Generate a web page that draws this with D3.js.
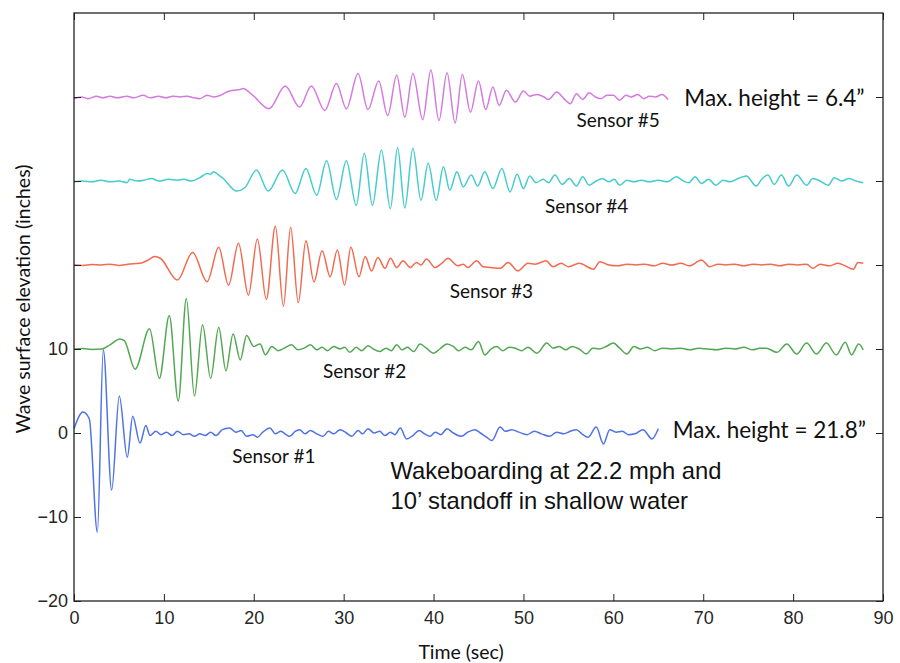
<!DOCTYPE html>
<html>
<head>
<meta charset="utf-8">
<script src="https://cdn.jsdelivr.net/npm/d3@7"></script>
<style>
  body { margin: 0; background: #fff; }
  .lbl { font-family: Lato, "Open Sans", sans-serif; fill: #111; }
  .tick-label { font-family: "Liberation Sans", Arial, sans-serif; font-size: 18px; fill: #262626; }
</style>
</head>
<body>
<svg id="chart" width="900" height="663"></svg>
<script>
// config
const X_DOMAIN = [0, 90];
const Y_DOMAIN = [-20, 50];
const X_TICKS  = [0, 10, 20, 30, 40, 50, 60, 70, 80, 90];
const Y_TICKS  = [-20, -10, 0, 10, 20, 30, 40];
const Y_LABELED = [-20, -10, 0, 10];

const SENSOR_NAMES   = ["Sensor #1", "Sensor #2", "Sensor #3", "Sensor #4", "Sensor #5"];
const SENSOR_OFFSETS = [0, 10, 20, 30, 40];
const SENSOR_COLORS  = ["#4f72e6", "#52a852", "#f26a50", "#45cccc", "#d47ae0"];

// [time (sec), elevation about the sensor's own baseline (inches)]
const sensor1 = [[0,0.5],[1.0,2.5],[1.7,1.7],[2.6,-11.8],[3.26,9.9],[4.19,-6.8],[5.04,4.4],[5.93,-2.9],[6.53,2.0],[7.34,-1.2],[8.0,0.9],[8.45,-0.3],[9.1,0.2],[9.7,-0.2],[10.3,0.1],[10.9,-0.3],[11.5,0.2],[12.2,-0.2],[12.8,-0.1],[13.4,-0.4],[14.0,-0.1],[14.6,-0.3],[15.2,0.1],[15.8,-0.3],[16.5,0.4],[17.3,0.6],[18.0,0.1],[18.6,0.3],[19.2,-0.4],[19.9,-0.2],[20.4,-0.5],[21.0,0.1],[21.8,0.6],[22.4,-0.1],[23.0,0.2],[23.6,-0.2],[24.0,-0.4],[24.6,0.2],[25.1,0.4],[25.7,-0.1],[26.3,0.3],[27.0,-0.1],[27.7,-0.4],[28.3,0.2],[28.9,-0.1],[29.6,0.4],[30.3,0.0],[30.9,-0.4],[31.6,0.3],[32.1,-0.1],[32.7,0.5],[33.4,0.0],[34.0,0.2],[34.6,-0.3],[35.2,0.1],[35.7,-0.2],[36.3,0.6],[37.0,-0.7],[37.7,-0.3],[38.4,0.3],[39.0,-0.1],[39.6,-0.4],[40.2,0.1],[40.8,-0.2],[41.5,0.5],[42.2,0.0],[43.1,-0.4],[43.8,0.1],[44.6,0.4],[45.2,0.0],[45.9,-0.5],[46.5,-0.9],[47.4,0.7],[48.0,0.2],[48.7,0.4],[49.5,0.1],[50.4,-0.2],[51.2,0.2],[52.0,-0.1],[52.9,-0.4],[53.7,0.1],[54.5,-0.1],[55.2,0.2],[55.9,0.4],[56.5,-0.1],[57.2,-0.5],[58.1,0.7],[58.9,-1.3],[59.6,0.4],[60.3,0.1],[61.0,0.2],[61.7,-0.2],[62.4,-0.1],[63.3,0.4],[64.3,-0.7],[65.0,0.5]];

const sensor2 = [[0,0],[1,0.05],[2,-0.05],[3.1,0],[4.0,0.5],[5.1,1.2],[5.6,1.0],[6.8,-2.4],[8.4,2.4],[9.5,-3.5],[10.6,4.0],[11.6,-6.2],[12.5,6.0],[13.4,-5.6],[14.3,2.9],[15.2,-3.5],[16.1,2.6],[16.9,-2.6],[17.7,1.8],[18.5,-1.3],[19.2,1.6],[20.0,0.3],[20.7,0.6],[21.3,-0.7],[22.0,0.3],[22.7,-0.2],[23.4,0.1],[24.2,0.5],[24.9,-0.1],[25.6,0.1],[26.3,0.5],[27.0,-0.1],[27.6,0.2],[28.2,-0.2],[28.9,0.3],[29.6,0.0],[30.1,0.2],[30.7,-0.4],[31.4,0.2],[32.0,-0.2],[32.7,0.4],[33.3,0.0],[34.0,-0.3],[34.7,0.1],[35.3,-0.2],[35.9,0.5],[36.5,-0.1],[37.1,0.2],[37.8,-0.3],[38.5,0.6],[39.2,0.1],[40.0,-0.5],[40.7,0.0],[41.5,0.6],[42.2,0.3],[42.8,-0.2],[43.5,0.2],[44.2,-0.1],[45.0,0.9],[45.7,-0.7],[46.4,0.0],[47.0,0.3],[47.7,-0.2],[48.4,0.2],[49.1,0.1],[49.8,-0.2],[50.5,0.2],[51.5,-0.5],[52.6,0.7],[53.3,0.1],[54.0,0.3],[54.7,-0.1],[55.4,0.3],[56.2,0.0],[57.0,-0.6],[57.7,0.1],[58.4,0.0],[59.2,0.3],[60.0,0.7],[60.7,0.1],[61.5,-0.6],[62.3,0.3],[63.0,0.0],[63.8,0.2],[64.6,-0.2],[65.5,0.1],[66.5,0.0],[67.5,0.1],[68.5,-0.1],[69.5,0.1],[70.5,0.0],[71.5,-0.1],[72.5,0.1],[73.5,0.0],[74.5,0.2],[75.5,-0.1],[76.3,0.1],[77.0,0.1],[78.2,-0.4],[79.3,0.6],[80.4,-0.6],[81.5,0.7],[82.6,-0.6],[83.7,0.7],[84.8,-0.7],[85.8,0.8],[86.5,-0.7],[87.3,0.6],[87.8,-0.1]];

const sensor3 = [[0,0],[1.0,-0.05],[2.0,0.05],[3.0,0],[4.0,0.1],[5.0,-0.05],[6.0,0.1],[7.3,0.2],[8.1,0.5],[9.0,1.0],[9.6,0.8],[11.5,-1.8],[13.2,1.5],[14.8,-2.0],[16.1,2.1],[17.2,-2.4],[18.3,2.6],[19.4,-3.6],[20.4,3.1],[21.4,-4.1],[22.4,4.6],[23.3,-4.9],[24.1,4.5],[24.95,-4.5],[25.8,2.9],[26.7,-2.0],[27.6,1.7],[28.5,-1.4],[29.3,1.8],[30.1,-2.4],[30.8,2.1],[31.7,-1.4],[32.4,1.0],[33.1,-0.7],[33.8,0.9],[34.6,-0.4],[35.2,0.8],[35.9,-0.3],[36.6,0.5],[37.4,-0.3],[38.1,0.3],[38.6,0.0],[39.2,0.7],[40.2,-0.3],[40.9,0.2],[41.6,0.8],[42.7,-0.1],[43.3,0.1],[43.8,-0.3],[44.8,0.5],[45.5,-0.2],[46.3,-0.3],[47.4,-0.4],[48.3,0.3],[49.4,-0.7],[50.5,0.2],[51.3,0.1],[52.5,0.5],[53.3,-0.2],[54.2,0.2],[55.0,-0.2],[56.2,0.2],[57.8,-0.5],[58.5,0.4],[59.5,0.0],[60.5,-0.1],[61.5,0.1],[62.5,0.0],[63.5,0.1],[64.5,-0.1],[65.5,0.2],[66.5,0.0],[67.5,0.2],[68.5,-0.1],[69.8,0.6],[70.7,-0.2],[71.7,0.1],[72.5,0.0],[73.5,0.1],[74.5,-0.1],[75.5,0.1],[76.5,0.0],[77.5,0.1],[78.5,-0.1],[79.5,0.1],[80.5,0.0],[81.5,0.1],[82.2,-0.4],[83.0,0.1],[84.0,-0.1],[85.0,0.2],[85.8,-0.1],[86.7,-0.5],[87.2,0.3],[87.8,0.2]];

const sensor4 = [[0,-0.1],[1.0,0.0],[2.0,-0.1],[3.0,0.1],[4.0,-0.1],[5.0,0.0],[5.9,-0.2],[6.2,0.2],[7.0,0.0],[7.8,0.1],[8.6,0.3],[9.5,0.0],[10.5,0.2],[11.5,0.1],[12.2,0.2],[13.1,0.0],[14.0,0.4],[14.8,0.9],[15.2,0.8],[15.5,1.1],[16.0,0.8],[16.6,0.3],[18.1,-1.2],[19.0,-0.8],[20.3,1.3],[21.6,-1.2],[23.2,1.3],[24.6,-1.5],[25.8,1.5],[27.0,-1.7],[28.1,2.4],[29.2,-2.2],[30.3,2.4],[31.4,-2.9],[32.3,3.3],[33.2,-2.9],[34.2,3.7],[35.2,-3.3],[36.0,4.0],[36.8,-3.2],[37.7,3.9],[38.6,-2.3],[39.4,2.1],[40.3,-2.3],[41.1,1.7],[41.8,-1.1],[42.6,1.1],[43.3,-0.7],[44.2,0.7],[44.9,-0.6],[45.7,1.1],[46.6,-0.9],[47.6,1.5],[48.5,-1.3],[49.3,0.8],[50.0,-0.9],[50.7,0.6],[51.4,-0.2],[52.2,0.2],[52.8,-0.2],[53.5,0.7],[54.3,-0.4],[55.1,0.3],[55.9,-0.6],[56.6,0.5],[57.3,-0.5],[58.1,0.0],[58.8,0.3],[59.5,-0.1],[60.1,0.2],[60.7,-0.5],[61.5,0.1],[62.3,-0.1],[63.1,0.1],[64.0,-0.1],[65.0,0.1],[66.0,-0.1],[67.0,0.5],[67.8,0.0],[68.4,-0.2],[69.1,0.5],[69.8,-0.3],[70.6,0.2],[71.4,-0.5],[72.2,0.1],[73.0,-0.1],[73.9,0.3],[74.8,0.6],[75.9,-0.6],[76.5,0.2],[77.2,0.7],[77.9,-0.4],[78.7,0.7],[79.5,-0.6],[80.4,0.7],[81.5,-0.5],[82.2,0.3],[83.0,0.0],[83.9,-0.5],[84.6,0.4],[85.4,0.0],[86.2,0.3],[87.0,0.0],[87.8,-0.2]];

const sensor5 = [[0,-0.2],[0.8,0.0],[1.6,-0.2],[2.5,0.1],[3.2,-0.1],[4.0,0.1],[4.8,-0.1],[5.9,0.1],[6.6,-0.1],[7.7,0.2],[8.5,-0.1],[9.4,0.1],[10.2,-0.1],[11.0,0.1],[11.8,0.0],[12.6,0.1],[13.3,-0.1],[14.0,-0.2],[14.8,0.2],[15.6,0.0],[16.3,0.2],[17.0,0.6],[17.7,0.8],[18.5,0.9],[18.8,1.0],[19.9,0.2],[21.7,-1.4],[23.5,1.3],[25.1,-1.2],[26.4,1.3],[27.9,-1.6],[29.2,1.6],[30.3,-1.4],[31.6,2.8],[32.7,-1.5],[33.9,1.9],[34.9,-2.2],[35.9,2.6],[36.8,-2.4],[37.7,2.8],[38.8,-2.7],[39.7,3.2],[40.6,-2.8],[41.5,2.9],[42.4,-3.1],[43.2,2.7],[44.1,-1.8],[45.0,1.9],[45.8,-1.5],[46.6,1.2],[47.3,-1.0],[48.1,0.8],[49.1,-0.6],[50.0,0.7],[50.7,0.1],[51.5,0.3],[52.3,0.0],[52.8,-0.3],[53.7,0.6],[54.5,-0.2],[55.2,-0.8],[55.9,0.4],[56.6,-0.3],[57.3,0.5],[58.0,0.0],[58.6,-0.2],[59.3,0.2],[60.0,0.2],[60.7,-0.4],[61.4,0.2],[62.0,0.0],[62.7,0.3],[63.4,-0.2],[64.0,0.1],[64.7,0.0],[65.4,0.3],[66.1,-0.3]];

const SENSORS = [sensor1, sensor2, sensor3, sensor4, sensor5];

// label anchors in data units [t, elevation]
const SENSOR_LABEL_POS = [[17.6,-3.6],[27.7,6.5],[41.8,16.1],[52.4,26.2],[55.9,36.4]];
const MAX_LABELS = [
  { text: "Max. height = 6.4\u201D",  pos: [67.9, 38.95] },
  { text: "Max. height = 21.8\u201D", pos: [66.6, -0.6] }
];
const NOTE_LINES = ["Wakeboarding at 22.2 mph and", "10\u2019 standoff in shallow water"];
const NOTE_POS   = [[35.2, -5.5], [35.2, -9.0]];

const svg    = d3.select("#chart"),
      width  = +svg.attr("width"),
      height = +svg.attr("height"),
      margin = { top: 13, right: 17, bottom: 62, left: 74 },
      innerW = width - margin.left - margin.right,
      innerH = height - margin.top - margin.bottom;

const x = d3.scaleLinear().domain(X_DOMAIN).range([0, innerW]);
const y = d3.scaleLinear().domain(Y_DOMAIN).range([innerH, 0]);

const g = svg.append("g").attr("transform", `translate(${margin.left},${margin.top})`);

// traces
const line = d3.line()
  .x(d => x(d[0]))
  .y(d => y(d[1]))
  .curve(d3.curveMonotoneX);

SENSORS.forEach((pts, i) => {
  g.append("path")
    .datum(pts.map(p => [p[0], p[1] + SENSOR_OFFSETS[i]]))
    .attr("d", line)
    .style("fill", "none")
    .style("stroke", SENSOR_COLORS[i])
    .style("stroke-width", 1.5)
    .style("stroke-linejoin", "round");
});

// box + inward ticks (matlab style)
const TICK = 7;
const axisStyle = sel => {
  sel.select(".domain").remove();
  sel.selectAll(".tick line").style("stroke", "#222");
};
g.append("g").attr("transform", `translate(0,${innerH})`)
  .call(d3.axisBottom(x).tickValues(X_TICKS).tickSizeInner(-TICK).tickSizeOuter(0).tickPadding(10))
  .call(axisStyle)
  .selectAll("text").attr("class", "tick-label").attr("dy", "0.71em");
g.append("g")
  .call(d3.axisTop(x).tickValues(X_TICKS).tickSizeInner(-TICK).tickSizeOuter(0).tickFormat(""))
  .call(axisStyle);
g.append("g")
  .call(d3.axisLeft(y).tickValues(Y_TICKS).tickSizeInner(-TICK).tickSizeOuter(0).tickPadding(6)
    .tickFormat(d => Y_LABELED.includes(d) ? (d < 0 ? "\u2212" + Math.abs(d) : d) : ""))
  .call(axisStyle)
  .selectAll("text").attr("class", "tick-label");
g.append("g").attr("transform", `translate(${innerW},0)`)
  .call(d3.axisRight(y).tickValues(Y_TICKS).tickSizeInner(-TICK).tickSizeOuter(0).tickFormat(""))
  .call(axisStyle);

g.append("rect")
  .attr("width", innerW).attr("height", innerH)
  .style("fill", "none").style("stroke", "#222").style("stroke-width", 1.3);

// sensor labels
g.selectAll("text.sensor")
  .data(SENSOR_NAMES)
  .join("text")
    .attr("class", "sensor lbl")
    .attr("x", (_, i) => x(SENSOR_LABEL_POS[i][0]))
    .attr("y", (_, i) => y(SENSOR_LABEL_POS[i][1]))
    .style("font-size", "19px")
    .text(d => d);

g.selectAll("text.maxh")
  .data(MAX_LABELS)
  .join("text")
    .attr("class", "maxh lbl")
    .attr("x", d => x(d.pos[0]))
    .attr("y", d => y(d.pos[1]))
    .style("font-size", "22.5px")
    .text(d => d.text);

g.selectAll("text.note")
  .data(NOTE_LINES)
  .join("text")
    .attr("class", "note")
    .attr("x", (_, i) => x(NOTE_POS[i][0]))
    .attr("y", (_, i) => y(NOTE_POS[i][1]))
    .style("font-family", "'Liberation Sans', Arial, sans-serif")
    .style("font-size", "23.8px")
    .style("fill", "#111")
    .text(d => d);

// axis titles
svg.append("text")
  .attr("class", "lbl")
  .attr("x", 461)
  .attr("y", 659)
  .attr("text-anchor", "middle")
  .style("font-size", "19.5px")
  .text("Time (sec)");

svg.append("text")
  .attr("class", "lbl")
  .attr("transform", `translate(30,${margin.top + innerH / 2 - 8}) rotate(-90)`)
  .attr("text-anchor", "middle")
  .style("font-size", "19.5px")
  .text("Wave surface elevation (inches)");
</script>
</body>
</html>
